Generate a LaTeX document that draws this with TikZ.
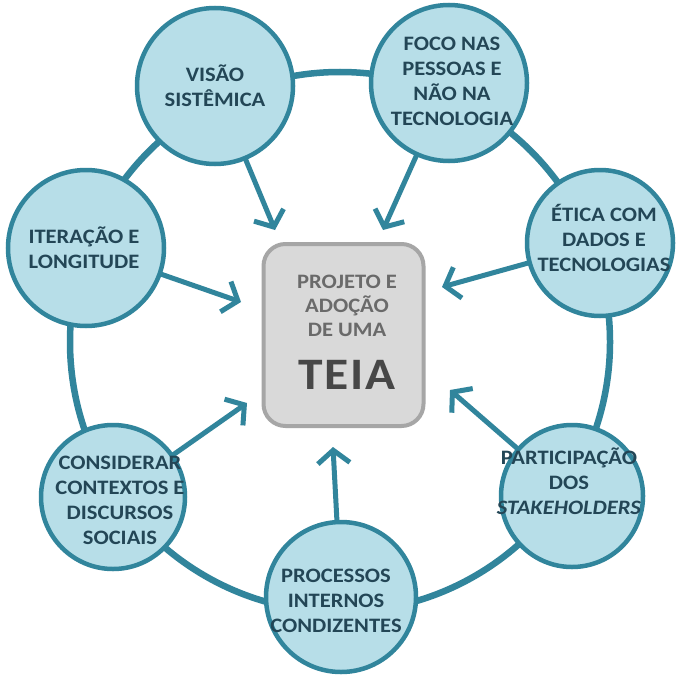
\documentclass[tikz,border=0pt]{standalone}
\usepackage{fontspec}
\setmainfont{Carlito}[FakeStretch=1.1]
\newfontfamily\teiafont{Carlito}[FakeStretch=1.1,LetterSpace=4]
\usetikzlibrary{arrows.meta}
\definecolor{ringc}{HTML}{31859C}
\definecolor{cfill}{HTML}{B7DEE8}
\definecolor{ctext}{HTML}{234656}
\definecolor{bfill}{HTML}{D9D9D9}
\definecolor{bdraw}{HTML}{A6A6A6}
\definecolor{btext}{HTML}{6A6A6A}
\definecolor{teiac}{HTML}{474747}
\begin{document}
\begin{tikzpicture}[x=1pt,y=-1pt,
  bubble/.style={circle, draw=ringc, line width=4.5pt, fill=cfill, inner sep=0pt, minimum size=#1},
  btxt/.style={text=ctext, font=\fontsize{20.5}{25}\selectfont\bfseries, align=center, inner sep=0pt},
  arr/.style={draw=ringc, line width=5pt, -{Straight Barb[length=13pt,width=32pt]}},
  ringline/.style={draw=ringc, line width=6.5pt}
]
\useasboundingbox (0,0) rectangle (676,674);
\fill[white] (0,0) rectangle (676,674);

\draw[ringline] (340,342) circle[radius=270];

% central box
\node[rounded corners=22pt, draw=bdraw, line width=4pt, fill=bfill,
      minimum width=160pt, minimum height=182pt, inner sep=0pt] (box) at (343.5,335) {};
\node[text=btext, font=\fontsize{20.5}{24}\selectfont\bfseries, align=center, inner sep=0pt] (boxtxt) at (347,306) {PROJETO E\\ADOÇÃO\\DE UMA};
\node[text=teiac, font=\fontsize{45}{45}\selectfont\teiafont\bfseries, inner sep=0pt] (teia) at (347,375) {TEIA};

% arrow tips
\coordinate (tv) at (275,230);
\coordinate (tf) at (383,230);
\coordinate (te) at (442,287);
\coordinate (tp) at (450,390);
\coordinate (tr) at (333,447);
\coordinate (tc) at (247,403);
\coordinate (ti) at (241,302);

% circle centres
\path (215,86) coordinate (cv);
\path (449,83) coordinate (cf);
\path (600,243) coordinate (ce);
\path (572,496) coordinate (cp);
\path (341,597) coordinate (cr);
\path (113,497) coordinate (cc);
\path (86,248) coordinate (ci);

\draw[arr] (cv) -- (tv);
\draw[arr] (cf) -- (tf);
\draw[arr] (ce) -- (te);
\draw[arr] (cp) -- (tp);
\draw[arr] (cr) -- (tr);
\draw[arr] (cc) -- (tc);
\draw[arr] (ci) -- (ti);

\node[bubble=156pt] (visao) at (cv) {};
\node[bubble=156pt] (foco) at (cf) {};
\node[bubble=146pt] (etica) at (ce) {};
\node[bubble=142pt] (part) at (cp) {};
\node[bubble=150pt] (proc) at (cr) {};
\node[bubble=144pt] (cons) at (cc) {};
\node[bubble=156pt] (iter) at (ci) {};

\node[btxt] (visaot) at (215,86) {VISÃO\\SISTÊMICA};
\node[btxt] (focot) at (452,81) {FOCO NAS\\PESSOAS E\\NÃO NA\\TECNOLOGIA};
\node[btxt] (eticat) at (604,238) {ÉTICA COM\\DADOS E\\TECNOLOGIAS};
\node[btxt] (partt) at (569,481) {PARTICIPAÇÃO\\DOS\\\textit{STAKEHOLDERS}};
\node[btxt] (proct) at (336,601) {PROCESSOS\\INTERNOS\\CONDIZENTES};
\node[btxt] (const) at (120,500) {CONSIDERAR\\CONTEXTOS E\\DISCURSOS\\SOCIAIS};
\node[btxt] (itert) at (84,248) {ITERAÇÃO E\\LONGITUDE};
\end{tikzpicture}
\end{document}
